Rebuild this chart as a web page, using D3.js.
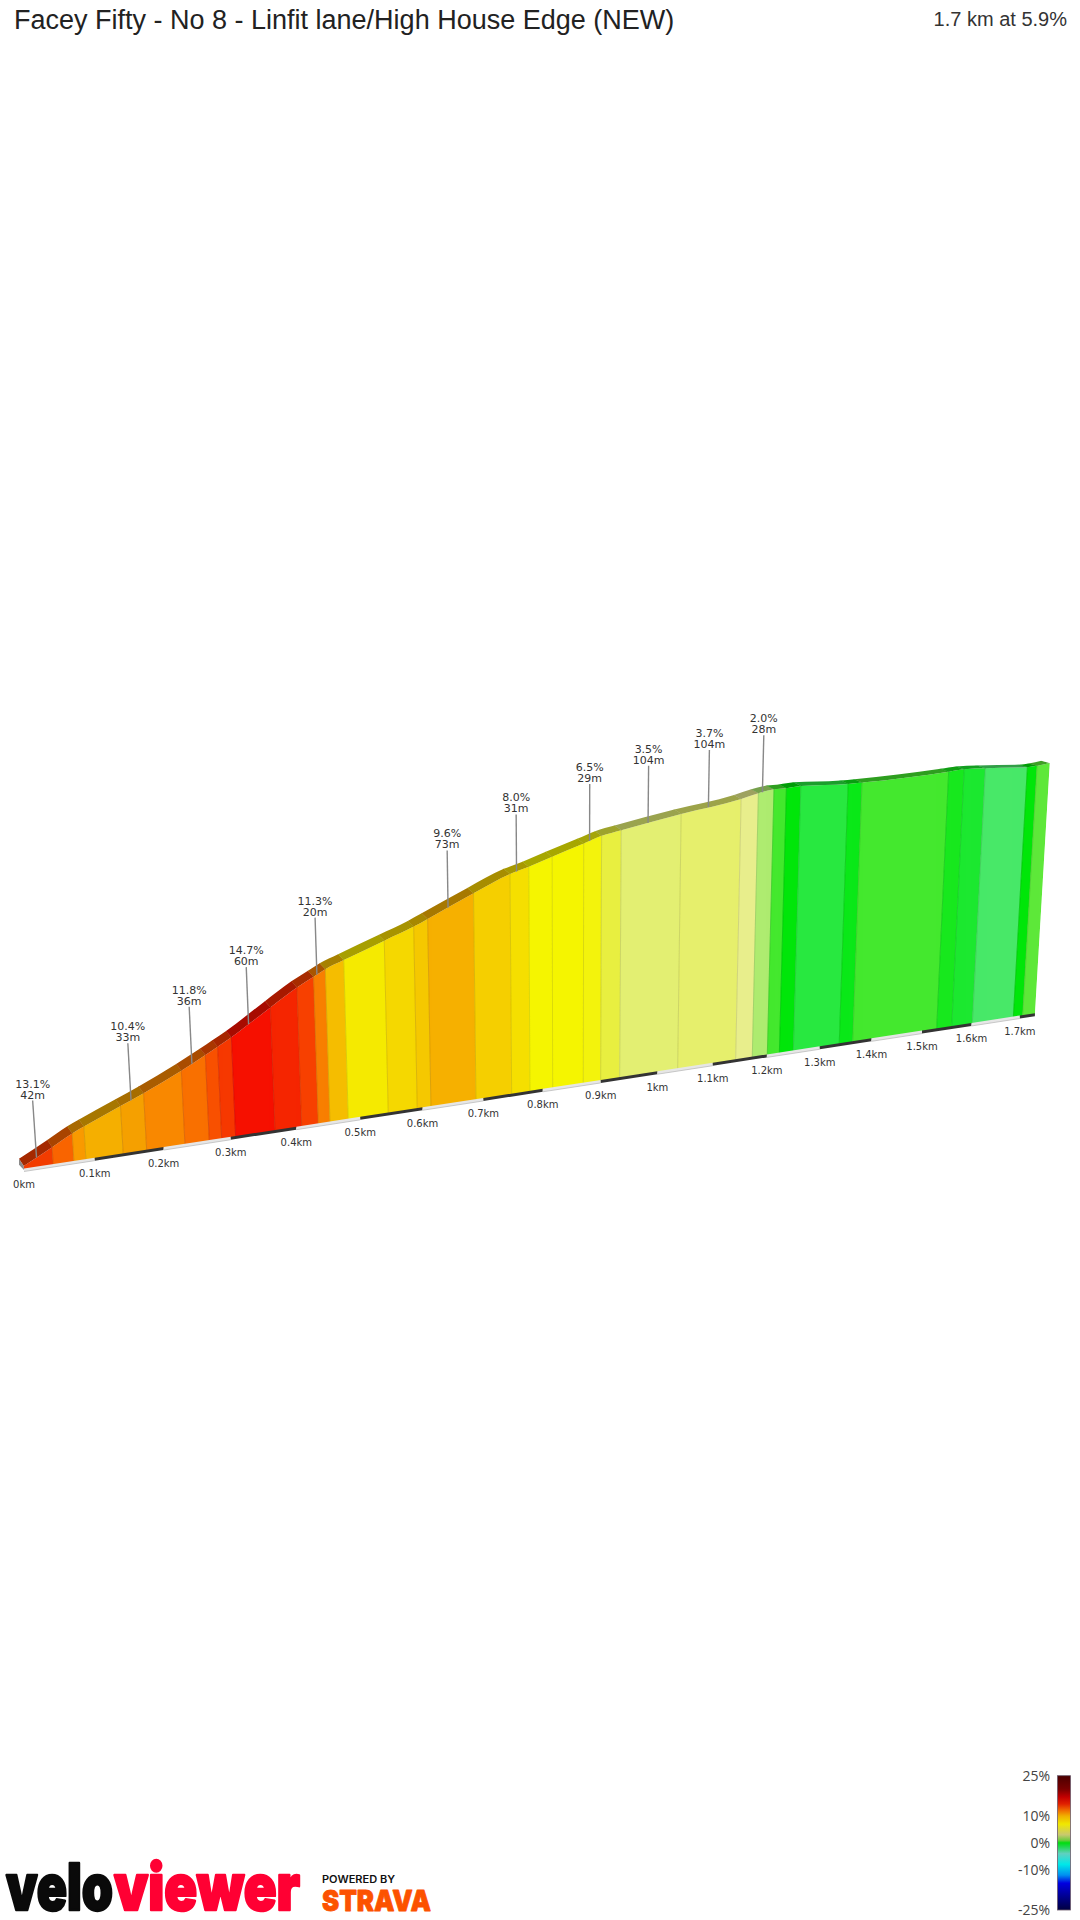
<!DOCTYPE html>
<html><head><meta charset="utf-8">
<style>html,body{margin:0;padding:0;background:#fff;width:1080px;height:1920px;overflow:hidden}svg{display:block}</style>
<script src="https://cdnjs.cloudflare.com/ajax/libs/d3/7.8.5/d3.min.js"></script>
</head><body><svg id="c" width="1080" height="1920"></svg>
<script>
const segmentKm=[0,.0411,.0704,.0875,.1411,.1752,.2315,.2677,.2863,.3073,.3672,.4083,.4341,.4524,.4811,.5447,.5914,.6137,.6877,.7473,.7782,.8169,.8696,.8998,.9331,1.0363,1.142,1.1728,1.2008,1.2234,1.2497,1.3374,1.3634,1.5293,1.5597,1.6016,1.6862,1.7057,1.7314];
const elevationM=[0,4.8,8.4,10.1,15.2,18.4,24.3,28.5,30.8,33.4,42,47.8,50.8,53,55.4,60.6,64.4,66.6,74,79.6,81.5,84.3,88,90.2,91.6,95.5,99,100.6,101.5,101.5,101.8,100.9,100.9,102,102.4,102,100.8,101,101.6];
const segmentColors=["#f23c00","#f96400","#f99a00","#f5af00","#f5a000","#f98800","#f97000","#f85000","#f63800","#f61000","#f52500","#f74000","#f87f00","#f5bd00","#f5ea00","#f5d800","#f5c800","#f6b000","#f5cf00","#f5df00","#f5f500","#f5f500","#f3f30c","#e8ef40","#e3ef72","#e6ef6c","#e8ee8c","#aeec70","#44e82e","#00e60a","#28e840","#0ae818","#44e82e","#18e81e","#1ce830","#48e868","#00e60a","#5ee83a"];
const tickKm=[0,.1,.2,.3,.4,.5,.6,.7,.8,.9,1,1.1,1.2,1.3,1.4,1.5,1.6,1.7];
const tickLabels=["0km","0.1km","0.2km","0.3km","0.4km","0.5km","0.6km","0.7km","0.8km","0.9km","1km","1.1km","1.2km","1.3km","1.4km","1.5km","1.6km","1.7km"];
const calloutKm=[.0185,.1566,.2474,.3336,.4393,.6465,.758,.8795,.979,1.084,1.18];
const calloutGrade=["13.1%","10.4%","11.8%","14.7%","11.3%","9.6%","8.0%","6.5%","3.5%","3.7%","2.0%"];
const calloutLength=["42m","33m","36m","60m","20m","73m","31m","29m","104m","104m","28m"];
const legendTicks=[25,10,0,-10,-25];
const legendStopValues=[25,20,17,14.5,12,10,7,3,1,0,-1.5,-4,-8,-12,-15,-20,-25];
const legendStopColors=["#4a0000","#7a0000","#c40000","#e02000","#f07000","#f0b000","#f0e800","#c8c870","#70cc40","#00dd10","#20d850","#60d0c0","#00e8e8","#0090f0","#0000e0","#000090","#000040"];

const svg=d3.select("#c");
const sans="'Liberation Sans',Arial,sans-serif", dv="'DejaVu Sans',Verdana,sans-serif";

// scales
const elevAt=d3.scaleLinear().domain(segmentKm).range(elevationM);
const worldX=d3.scaleLinear().domain([0,1.7]).range([0,1218.2]);
const wallH=d3.scaleLinear().domain([0,102]).range([4,310]);
const persp=km=>1/(1+.1313*km);
const baseRise=d3.scaleLinear().domain([0,996]).range([0,153]);
const backDx=d3.scaleLinear().domain([0,1.7314]).range([-4.7,-8.3]);
const backDy=d3.scaleLinear().domain([0,1.7314]).range([-7.3,-2.3]);
const lean=d3.scaleLinear().domain([570,1570]).range([0,.127]);
const baseX=km=>24+worldX(km)*persp(km);
const baseY=km=>1170-baseRise(baseX(km)-24);
const heightAt=km=>wallH(elevAt(km))*persp(km);
const topPt=km=>{const h=heightAt(km);return [baseX(km)+lean(baseX(km))*h,baseY(km)-h];};
const backPt=km=>{const p=topPt(km);return [p[0]+backDx(km),p[1]+backDy(km)];};
const poly=pts=>pts.map(p=>p.map(v=>v.toFixed(2)).join(",")).join(" ");
const shade=(c,k)=>{const r=d3.rgb(c);return d3.rgb(r.r*k,r.g*k,r.b*k).formatHex();};

// title
svg.append("text").attr("x",14).attr("y",29).attr("font-family",sans).attr("font-size",27).attr("fill","#222")
  .text("Facey Fifty - No 8 - Linfit lane/High House Edge (NEW)");
svg.append("text").attr("x",1067).attr("y",26).attr("text-anchor","end").attr("font-family",sans).attr("font-size",20).attr("fill","#333")
  .text("1.7 km at 5.9%");

const segs=segmentColors.map((c,i)=>({c,a:segmentKm[i],b:segmentKm[i+1]}));
const defs=svg.append("defs");
const wallArea=d3.area().curve(d3.curveMonotoneX)
  .x0(d=>topPt(d)[0]).y0(d=>topPt(d)[1]).x1(d=>baseX(d)).y1(d=>baseY(d));
const bandArea=d3.area().curve(d3.curveMonotoneX)
  .x0(d=>topPt(d)[0]).y0(d=>topPt(d)[1]).x1(d=>backPt(d)[0]).y1(d=>backPt(d)[1]);
defs.append("clipPath").attr("id","wallClip").append("path").attr("d",wallArea(segmentKm));
defs.append("clipPath").attr("id","bandClip").append("path").attr("d",bandArea(segmentKm));

// start cap
{const bx=[baseX(0),baseY(0)],t=topPt(0),bk=backPt(0);
 svg.append("polygon").attr("points",poly([t,bk,[bk[0],bk[1]+6],bx])).attr("fill","#8a8a8a");}

// wall: slabs reach above the profile and are trimmed to the curved outline
const up=(p,km,k)=>[p[0]+lean(baseX(km))*k,p[1]-k];
const wallG=svg.append("g").attr("clip-path","url(#wallClip)");
wallG.selectAll("polygon").data(segs).join("polygon")
  .attr("points",d=>poly([up(topPt(d.a),d.a,8),up(topPt(d.b),d.b,8),[baseX(d.b),baseY(d.b)],[baseX(d.a),baseY(d.a)]]))
  .attr("fill",d=>d.c).attr("stroke",d=>d.c).attr("stroke-width",.4);
wallG.selectAll("line").data(segs.slice(1)).join("line")
  .attr("x1",d=>up(topPt(d.a),d.a,8)[0]).attr("y1",d=>up(topPt(d.a),d.a,8)[1]).attr("x2",d=>baseX(d.a)).attr("y2",d=>baseY(d.a))
  .attr("stroke",d=>shade(d.c,.8)).attr("stroke-width",1).attr("opacity",.55);
// road surface band
const ext=(km,k)=>{const t=topPt(km),b=backPt(km);return [t[0]+(b[0]-t[0])*k,t[1]+(b[1]-t[1])*k];};
svg.append("g").attr("clip-path","url(#bandClip)").selectAll("polygon").data(segs).join("polygon")
  .attr("points",d=>poly([ext(d.a,-1.5),ext(d.b,-1.5),ext(d.b,2.5),ext(d.a,2.5)]))
  .attr("fill",d=>shade(d.c,.68)).attr("stroke",d=>shade(d.c,.68)).attr("stroke-width",.4);

// base strip
const stripKm=d3.pairs(tickKm.concat([segmentKm[segmentKm.length-1]]));
svg.append("g").selectAll("polygon").data(stripKm).join("polygon")
  .attr("points",d=>poly([[baseX(d[0]),baseY(d[0])-1.5],[baseX(d[1]),baseY(d[1])-1.5],[baseX(d[1]),baseY(d[1])+1.5],[baseX(d[0]),baseY(d[0])+1.5]]))
  .attr("fill",(d,i)=>i%2?"#333333":"#e6e6e6");
svg.append("g").selectAll("line").data(stripKm.filter((d,i)=>!(i%2))).join("line")
  .attr("x1",d=>baseX(d[0])).attr("y1",d=>baseY(d[0])+1.5).attr("x2",d=>baseX(d[1])).attr("y2",d=>baseY(d[1])+1.5)
  .attr("stroke","#bdbdbd").attr("stroke-width",.8);

// tick labels
svg.append("g").selectAll("text").data(tickKm).join("text")
  .attr("x",d=>baseX(d)).attr("y",d=>baseY(d)+18)
  .attr("text-anchor","middle").attr("font-family",dv).attr("font-size",10).attr("fill","#333")
  .text((d,i)=>tickLabels[i]);

// callouts
const LEAD=57;
const leadTop=d=>{const p=topPt(d);return [p[0]+lean(p[0])*LEAD,p[1]-LEAD];};
const call=svg.append("g").selectAll("g").data(calloutKm).join("g");
call.append("line")
  .attr("x1",d=>leadTop(d)[0]).attr("y1",d=>leadTop(d)[1])
  .attr("x2",d=>topPt(d)[0]).attr("y2",d=>topPt(d)[1])
  .attr("stroke","#888").attr("stroke-width",1.4);
call.append("text").attr("x",d=>leadTop(d)[0]).attr("y",d=>leadTop(d)[1]-13)
  .attr("text-anchor","middle").attr("font-family",dv).attr("font-size",11).attr("fill","#333").text((d,i)=>calloutGrade[i]);
call.append("text").attr("x",d=>leadTop(d)[0]).attr("y",d=>leadTop(d)[1]-2)
  .attr("text-anchor","middle").attr("font-family",dv).attr("font-size",11).attr("fill","#333").text((d,i)=>calloutLength[i]);

// legend
const legY=d3.scaleLinear().domain([25,-25]).range([1775.7,1910]);
const grad=defs.append("linearGradient").attr("id","lg").attr("x1",0).attr("x2",0).attr("y1",0).attr("y2",1);
const legPct=d3.scaleLinear().domain([25,-25]).range([0,100]);
grad.selectAll("stop").data(legendStopValues).join("stop")
  .attr("offset",d=>legPct(d)+"%").attr("stop-color",(d,i)=>legendStopColors[i]);
svg.append("rect").attr("x",1057.5).attr("y",legY(25)).attr("width",13).attr("height",legY(-25)-legY(25))
  .attr("fill","url(#lg)").attr("stroke","#6b5a6b").attr("stroke-width",.8);
svg.append("g").selectAll("text").data(legendTicks).join("text")
  .attr("x",1050).attr("y",d=>legY(d)+5).attr("text-anchor","end").attr("font-family","'Open Sans',sans-serif").attr("font-size",14).attr("fill","#444")
  .text(d=>d+"%");

// logo
const logo=(t,x,len,col,fs,y,weight,ls)=>svg.append("text").attr("x",x).attr("y",y).attr("font-family","Inter,'Liberation Sans',sans-serif")
  .attr("font-weight",weight).attr("font-size",fs).attr("fill",col).attr("textLength",len).attr("lengthAdjust","spacingAndGlyphs")
  .attr("stroke",col).attr("stroke-width",ls).attr("stroke-linejoin","round").text(t);
logo("velo",6,107,"#0a0a0a",64,1910,900,2.4);
logo("viewer",114,186,"#ff0033",64,1910,900,2.4);
logo("POWERED BY",322,73,"#111",10,1882.7,600,0);
logo("STRAVA",322,109,"#fc5200",29,1911,900,.8);
</script></body></html>
